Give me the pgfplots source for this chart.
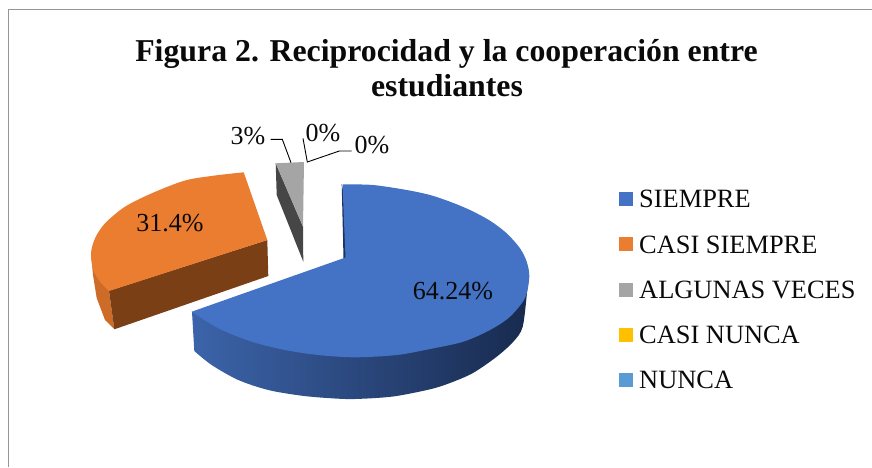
\documentclass[border=0pt]{standalone}
\usepackage{pgfplots}
\pgfplotsset{compat=1.18}
\usepackage{fontspec}
\setmainfont{Liberation Serif}
\definecolor{bl}{HTML}{4472C4}
\definecolor{or}{HTML}{EB7D31}
\definecolor{gr}{HTML}{A5A5A5}
\definecolor{ye}{HTML}{FFC000}
\definecolor{sk}{HTML}{5B9BD5}
\definecolor{txt}{HTML}{0A0A0A}
\begin{document}
\begin{tikzpicture}
\path[use as bounding box] (0,0) rectangle (872pt,467pt);
\begin{axis}[
  at={(0,0)}, anchor=south west,
  scale only axis, width=872pt, height=467pt,
  xmin=0, xmax=872, ymin=0, ymax=467, y dir=reverse,
  axis lines=none, clip=true,
]
% frame
\addplot[draw={rgb,255:red,150;green,150;blue,150}, line width=1.4pt, no marks] coordinates {(8.5,467) (8.5,9.5) (872,9.5)};
% blue side
\addplot[draw=none, smooth, left color={rgb,255:red,60;green,100;blue,170}, middle color={rgb,255:red,38;green,63;blue,112}, right color={rgb,255:red,24;green,42;blue,78}, no marks] coordinates {
(529,277) (527.3,290) (522.7,326.7) (513.3,341.7) (496.7,356.7) (473,373) (450,383) (430,389.3) (393,396.5) (355,399) (331.7,398.3) (301.7,395.7) (268.3,390) (238.3,380) (211.7,365) (194.3,351)} -- (axis cs:192,312) -- cycle;
% blue inner wall
\addplot[fill={rgb,255:red,28;green,50;blue,95}, draw=none, no marks] coordinates {(341.7,184) (343.5,258) (347,258) (343,190)} -- cycle;
% blue top
\addplot[fill=bl, draw=none, smooth, no marks] coordinates {
(342.5,184.3) (373,185) (406.7,190) (430,195) (450,201.7) (470,210) (490,220.7) (506.7,233.3) (520,248.3) (526.7,261.7) (529.3,276.7) (525,298) (510,316.7) (490,330) (463.3,341.7) (430,349) (397,355) (355,357.3) (318,355) (285,350) (251.7,341.7) (218.3,328.3) (191.7,311.7)} -- (axis cs:345.5,257.5) -- cycle;
% orange left side
\addplot[fill={rgb,255:red,204;green,108;blue,40}, draw=none, no marks] coordinates {(91,253.3) (93,275) (96.7,298) (105,320) (114.3,329) (109,291)} -- cycle;
% orange front
\addplot[fill={rgb,255:red,123;green,63;blue,22}, draw=none, no marks] coordinates {(109,290.7) (267.3,240) (268.3,276) (114.3,329.3)} -- cycle;
% orange top
\addplot[fill=or, draw=none, smooth, no marks] coordinates {(243.7,172.3) (215,175.5) (185,180.5) (151.7,193.3) (125,206.7) (105,223.3) (95,238.3) (91,253.3) (93.3,270) (100,281.7) (109,291)} -- (axis cs:267.3,240) -- cycle;
% gray
\addplot[fill={rgb,255:red,70;green,70;blue,70}, draw=none, no marks] coordinates {(275.7,163.3) (303,226.7) (303.3,261.7) (276.7,195)} -- cycle;
\addplot[fill=gr, draw=none, no marks] coordinates {(275.7,163.3) (304,162) (303,226.7)} -- cycle;
% leaders
\addplot[black, line width=0.9pt, no marks] coordinates {(270.7,139.3) (282.3,139.3) (291,162.7)};
\addplot[black, line width=0.9pt, no marks] coordinates {(303,138.3) (307.3,162) (339.3,151) (351.7,151)};
% legend keys
\addplot[fill=bl, draw=none, no marks] coordinates {(619,192) (633,192) (633,206) (619,206)} -- cycle;
\addplot[fill=or, draw=none, no marks] coordinates {(619,237) (633,237) (633,251) (619,251)} -- cycle;
\addplot[fill=gr, draw=none, no marks] coordinates {(619,283) (633,283) (633,297) (619,297)} -- cycle;
\addplot[fill=ye, draw=none, no marks] coordinates {(619,328) (633,328) (633,342) (619,342)} -- cycle;
\addplot[fill=sk, draw=none, no marks] coordinates {(619,373) (633,373) (633,387) (619,387)} -- cycle;
% text
\node[txt, font=\bfseries\fontsize{31.8}{36}\selectfont, align=center] at (axis cs:446.5,54) {Figura 2. Reciprocidad y la cooperación entre};
\node[txt, font=\bfseries\fontsize{31.8}{36}\selectfont, align=center] at (axis cs:447,86) {estudiantes};
\def\lab#1#2#3{\node[txt, font=\fontsize{26}{30}\selectfont, anchor=base] at (axis cs:#1,#2) {#3};}
\lab{170}{231}{31.4\%}
\lab{453}{299}{64.24\%}
\lab{248}{144}{3\%}
\lab{323}{141}{0\%}
\lab{372}{153}{0\%}
\def\leg#1#2{\node[txt, font=\fontsize{26.4}{30}\selectfont, anchor=base west, inner sep=0pt] at (axis cs:639,#1) {#2};}
\leg{207}{SIEMPRE}
\leg{253}{CASI SIEMPRE}
\leg{298}{ALGUNAS VECES}
\leg{343}{CASI NUNCA}
\leg{388}{NUNCA}
\end{axis}
\end{tikzpicture}
\end{document}
